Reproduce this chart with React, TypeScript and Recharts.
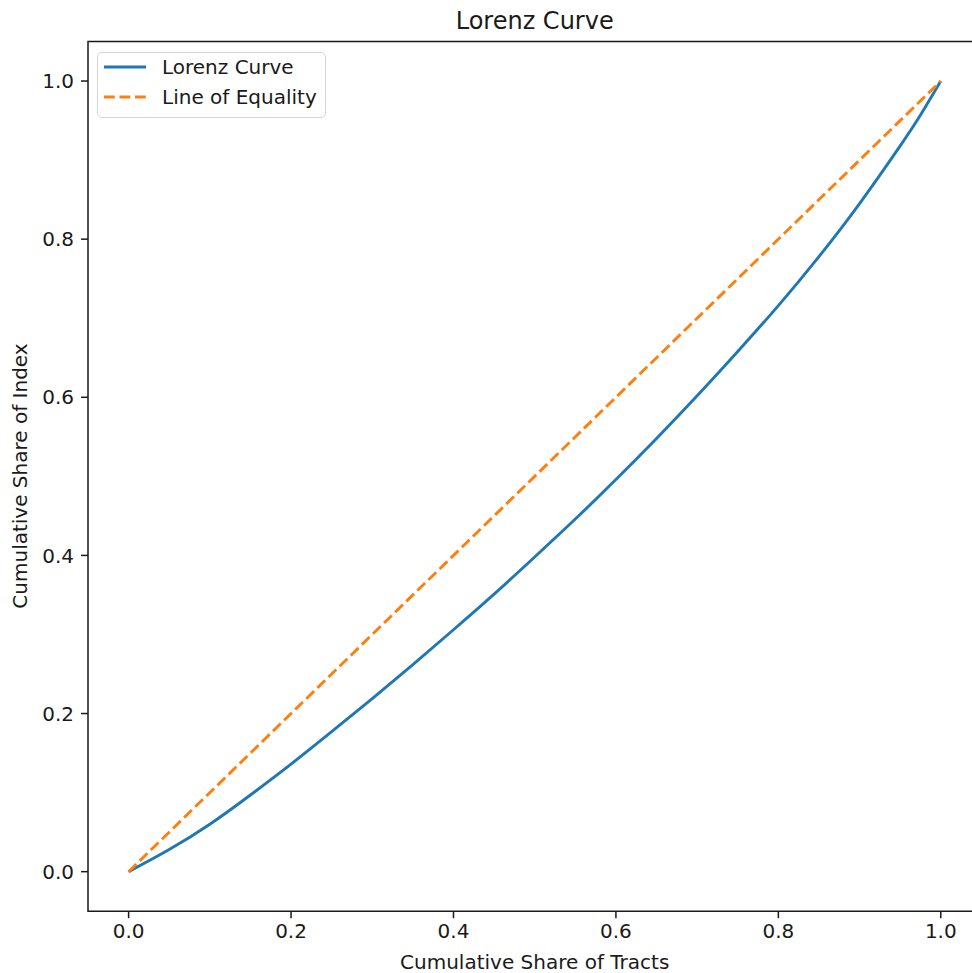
import React from "react"
import {
  LineChart,
  Line,
  XAxis,
  YAxis,
  ReferenceArea,
} from "recharts"

// cumulative share of tracts (x) vs cumulative share of index (y)
const lorenzX = [0, 0.05, 0.1, 0.15, 0.2, 0.25, 0.3, 0.35, 0.4, 0.45, 0.5, 0.55, 0.6, 0.65, 0.7, 0.75, 0.8, 0.85, 0.9, 0.95, 0.975, 1.0]
const lorenzY = [0, 0.028, 0.06, 0.097, 0.136, 0.177, 0.219, 0.262, 0.306, 0.351, 0.398, 0.446, 0.496, 0.548, 0.602, 0.658, 0.716, 0.778, 0.845, 0.918, 0.957, 1.0]

const equalityX = [0, 1]
const equalityY = [0, 1]

const xTicks = [0, 0.2, 0.4, 0.6, 0.8, 1.0]
const yTicks = [0, 0.2, 0.4, 0.6, 0.8, 1.0]

const BLUE = "#1f77b4"
const ORANGE = "#ff7f0e"
const FONT = "'DejaVu Sans', sans-serif"
const FS = 20
const TITLE_FS = 24
const INK = "#1a1a1a"

const lorenzData = lorenzX.map((x, i) => ({ x, y: lorenzY[i] }))
const equalityData = equalityX.map((x, i) => ({ x, y: equalityY[i] }))

const legendItems = [
  { label: "Lorenz Curve", color: BLUE, dash: undefined as string | undefined },
  { label: "Line of Equality", color: ORANGE, dash: "10.8 4.7" },
]

// plot box in page pixels
const LEFT = 88
const TOP = 41.5
const RIGHT = 981.4
const BOTTOM = 911.2
const CHART_W = 1000
const CHART_H = 973

const tickStyle = { fontFamily: FONT, fontSize: FS, fill: INK }

export default function App() {
  const cx = (LEFT + RIGHT) / 2
  const cy = (TOP + BOTTOM) / 2
  return (
    <div
      style={{
        position: "fixed",
        left: 0,
        top: 0,
        width: 972,
        height: 973,
        overflow: "hidden",
        background: "#fff",
        fontFamily: FONT,
        color: INK,
      }}
    >
      <LineChart
        width={CHART_W}
        height={CHART_H}
        margin={{ top: TOP, right: CHART_W - RIGHT, bottom: 0, left: 0 }}
      >
        <XAxis
          dataKey="x"
          type="number"
          domain={[-0.05, 1.05]}
          ticks={xTicks}
          allowDataOverflow
          height={CHART_H - BOTTOM}
          axisLine={false}
          tickLine={{ stroke: INK, strokeWidth: 1.5 }}
          tickSize={7}
          tickMargin={6}
          tick={tickStyle}
          tickFormatter={(v: number) => v.toFixed(1)}
        />
        <YAxis
          type="number"
          domain={[-0.05, 1.05]}
          ticks={yTicks}
          allowDataOverflow
          width={LEFT}
          axisLine={false}
          tickLine={{ stroke: INK, strokeWidth: 1.5 }}
          tickSize={7}
          tickMargin={7}
          tick={tickStyle}
          tickFormatter={(v: number) => v.toFixed(1)}
        />
        <ReferenceArea
          x1={-0.05}
          x2={1.05}
          y1={-0.05}
          y2={1.05}
          fill="none"
          stroke={INK}
          strokeWidth={1.5}
          ifOverflow="visible"
        />
        <Line
          data={lorenzData}
          dataKey="y"
          type="natural"
          stroke={BLUE}
          strokeWidth={2.9}
          dot={false}
          activeDot={false}
          isAnimationActive={false}
        />
        <Line
          data={equalityData}
          dataKey="y"
          type="linear"
          stroke={ORANGE}
          strokeWidth={2.9}
          strokeDasharray="10.8 4.7"
          dot={false}
          activeDot={false}
          isAnimationActive={false}
        />
      </LineChart>

      {/* title */}
      <div
        style={{
          position: "absolute",
          left: cx,
          top: 21,
          transform: "translate(-50%, -50%)",
          fontSize: TITLE_FS,
          whiteSpace: "nowrap",
        }}
      >
        Lorenz Curve
      </div>

      {/* x label */}
      <div
        style={{
          position: "absolute",
          left: cx,
          top: 962,
          transform: "translate(-50%, -50%)",
          fontSize: FS,
          whiteSpace: "nowrap",
        }}
      >
        Cumulative Share of Tracts
      </div>

      {/* y label */}
      <div
        style={{
          position: "absolute",
          left: 20,
          top: cy,
          transform: "translate(-50%, -50%) rotate(-90deg)",
          fontSize: FS,
          whiteSpace: "nowrap",
        }}
      >
        Cumulative Share of Index
      </div>

      {/* legend */}
      <div
        style={{
          position: "absolute",
          left: 97,
          top: 52,
          width: 229,
          height: 66,
          boxSizing: "border-box",
          border: "1.5px solid #d6d6d6",
          borderRadius: 5,
          background: "rgba(255,255,255,0.8)",
        }}
      >
        {legendItems.map((it, i) => (
          <div
            key={it.label}
            style={{
              position: "absolute",
              left: 6,
              top: -1.5 + i * 30,
              height: 30,
              display: "flex",
              alignItems: "center",
              fontSize: FS,
              whiteSpace: "nowrap",
            }}
          >
            <svg width={42} height={10} style={{ marginRight: 16 }}>
              <line
                x1={0}
                y1={5}
                x2={42}
                y2={5}
                stroke={it.color}
                strokeWidth={2.9}
                strokeDasharray={it.dash}
              />
            </svg>
            <span>{it.label}</span>
          </div>
        ))}
      </div>
    </div>
  )
}
